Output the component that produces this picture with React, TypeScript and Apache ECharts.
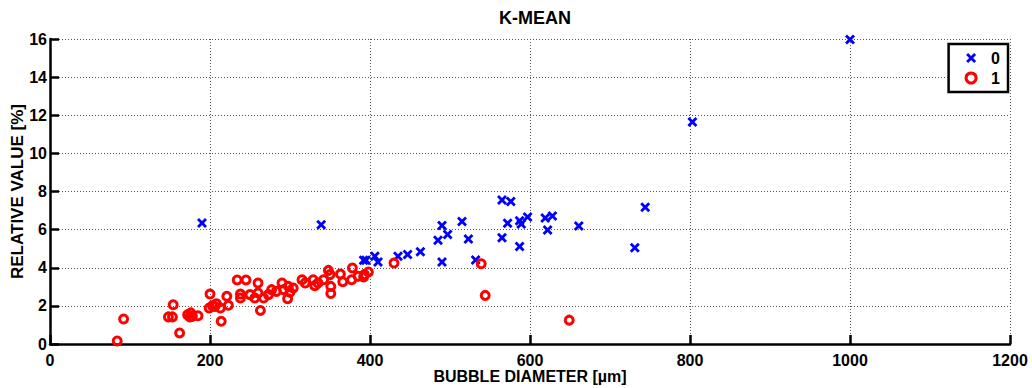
import React, { useEffect, useRef } from "react";
import * as echarts from "echarts";

const title = "K-MEAN";
const xAxisName = "BUBBLE DIAMETER [µm]";
const yAxisName = "RELATIVE VALUE [%]";
const legendNames = ["0", "1"];

// cluster 0 (blue x)
const cluster0: number[][] = [
  [190, 6.35], [339, 6.26], [392, 4.39], [395, 4.39], [406, 4.6], [410, 4.3],
  [435, 4.6], [447, 4.7], [463, 4.84], [485, 5.44], [490, 6.22], [490, 4.3],
  [497, 5.75], [515, 6.42], [523, 5.51], [532, 4.41], [565, 7.55], [576, 7.47],
  [565, 5.58], [572, 6.33], [587, 5.12], [587, 6.47], [589, 6.3], [597, 6.66],
  [619, 6.61], [628, 6.72], [622, 5.98], [661, 6.19], [731, 5.05], [744, 7.17],
  [803, 11.65], [1000, 15.97],
];

// cluster 1 (red circles)
const cluster1: number[][] = [
  [84, 0.16], [92, 1.31], [148, 1.42], [153, 1.42], [154, 2.06], [162, 0.58],
  [172, 1.54], [175, 1.42], [178, 1.45], [176, 1.63], [185, 1.48], [200, 2.62],
  [199, 1.89], [203, 2.01], [206, 1.97], [208, 2.11], [213, 1.89], [214, 1.19],
  [221, 2.5], [223, 2.03], [234, 3.36], [245, 3.36], [238, 2.62], [238, 2.41],
  [250, 2.59], [260, 3.2], [256, 2.41], [260, 2.68], [267, 2.41], [263, 1.76],
  [273, 2.59], [277, 2.85], [283, 2.76], [290, 3.2], [292, 2.85], [298, 3.02],
  [300, 2.71], [304, 2.94], [297, 2.38], [315, 3.37], [319, 3.2], [329, 3.37],
  [331, 3.06], [335, 3.2], [348, 3.86], [350, 3.64], [342, 3.37], [351, 3.02],
  [351, 2.65], [363, 3.67], [366, 3.27], [377, 3.37], [378, 3.99], [385, 3.55],
  [392, 3.52], [393, 3.64], [398, 3.78], [430, 4.25], [539, 4.21], [544, 2.55],
  [649, 1.25],
];

const xTicks = { min: 0, max: 1200, interval: 200 };
const yTicks = { min: 0, max: 16, interval: 2 };

const FONT = "'Liberation Sans', Arial, sans-serif";
const CROSS =
  "path://M0,2L2,0L5,3L8,0L10,2L7,5L10,8L8,10L5,7L2,10L0,8L3,5Z";

export default function App() {
  const ref = useRef<HTMLDivElement>(null);

  useEffect(() => {
    if (!ref.current) return;
    const chart = echarts.init(ref.current, null, { renderer: "svg" });
    const axisCommon = {
      type: "value" as const,
      nameLocation: "middle" as const,
      nameMoveOverlap: false,
      nameTextStyle: { fontFamily: FONT, fontWeight: "bold" as const, fontSize: 16, color: "#000" },
      axisLine: { show: true, onZero: false, lineStyle: { color: "#000", width: 2.5 } },
      axisTick: { show: true, inside: true, length: 9, lineStyle: { color: "#000", width: 2.5 } },
      axisLabel: {
        fontFamily: FONT,
        fontWeight: "bold" as const,
        fontSize: 16,
        color: "#000",
        formatter: (v: number) => String(v),
      },
      splitLine: { show: true, lineStyle: { type: [1, 2], color: "#555", width: 1 } },
    };
    chart.setOption({
      animation: false,
      backgroundColor: "#fff",
      title: {
        text: title,
        left: 530,
        top: 4,
        textAlign: "center",
        textStyle: { fontFamily: FONT, fontWeight: "bold", fontSize: 18, color: "#000" },
      },
      grid: { left: 50, right: 22, top: 39, bottom: 44, containLabel: false, outerBoundsMode: "none" },
      xAxis: {
        ...axisCommon,
        name: xAxisName,
        nameGap: 24,
        min: xTicks.min,
        max: xTicks.max,
        interval: xTicks.interval,
        axisLabel: { ...axisCommon.axisLabel, margin: 8 },
      },
      yAxis: {
        ...axisCommon,
        name: yAxisName,
        nameGap: 24,
        nameTextStyle: { ...axisCommon.nameTextStyle, fontSize: 17 },
        min: yTicks.min,
        max: yTicks.max,
        interval: yTicks.interval,
        axisLabel: { ...axisCommon.axisLabel, margin: 3 },
      },
      legend: {
        orient: "vertical",
        right: 24,
        top: 44,
        backgroundColor: "#fff",
        borderColor: "#000",
        borderWidth: 2.5,
        borderRadius: 0,
        padding: [6, 8, 6, 16],
        itemGap: 4,
        itemWidth: 10,
        itemHeight: 10,
        textStyle: { fontFamily: FONT, fontWeight: "bold", fontSize: 16, color: "#000", padding: [0, 0, 0, 10] },
        data: [
          { name: legendNames[0], icon: CROSS, itemStyle: { color: "#0000ff", borderWidth: 0 } },
          {
            name: legendNames[1],
            icon: "circle",
            itemStyle: { color: "rgba(0,0,0,0)", borderColor: "#ff0000", borderWidth: 3 },
          },
        ],
      },
      series: [
        {
          name: legendNames[0],
          type: "scatter",
          data: cluster0,
          symbol: CROSS,
          symbolSize: 10,
          itemStyle: { color: "#0000ff", opacity: 1 },
        },
        {
          name: legendNames[1],
          type: "scatter",
          data: cluster1,
          symbol: "circle",
          symbolSize: 8,
          itemStyle: { color: "rgba(0,0,0,0)", borderColor: "#ff0000", borderWidth: 3, opacity: 1 },
        },
      ],
    });
    return () => chart.dispose();
  }, []);

  return (
    <div
      ref={ref}
      style={{ position: "fixed", left: 0, top: 0, width: 1032, height: 388, background: "#fff" }}
    />
  );
}
